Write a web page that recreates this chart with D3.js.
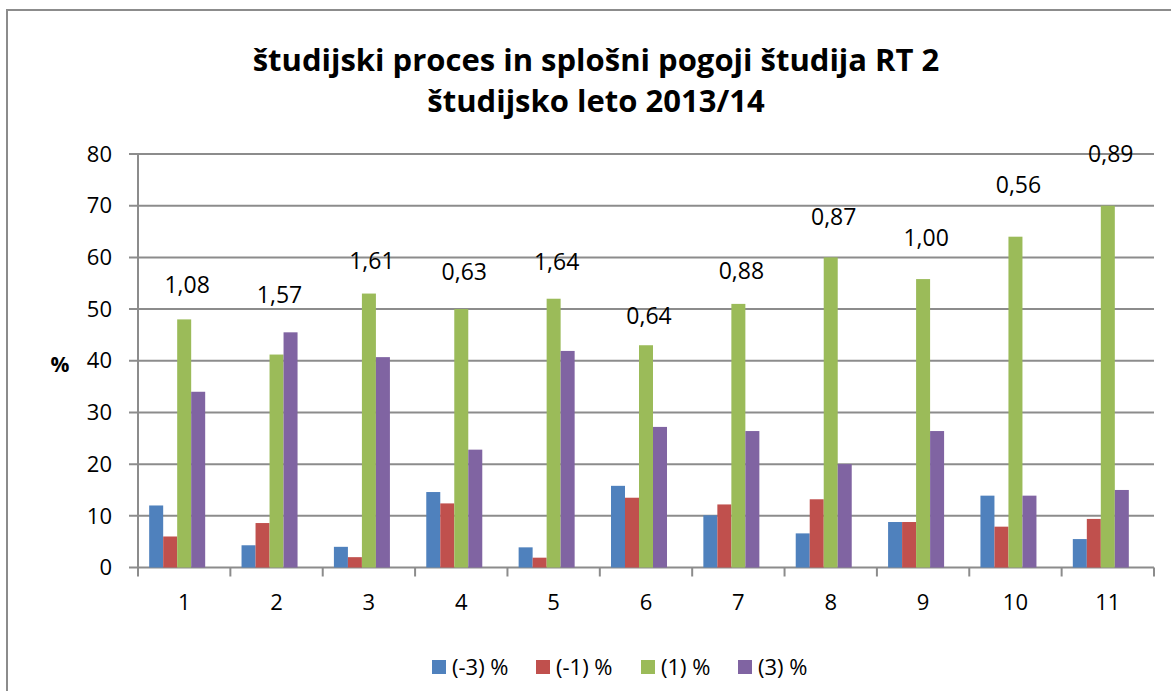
<!DOCTYPE html>
<html>
<head>
<meta charset="utf-8">
<script src="https://cdn.jsdelivr.net/npm/d3@7"></script>
<style>
  body { margin: 0; background: #fff; }
  text { font-family: "Open Sans", "DejaVu Sans", sans-serif; }
</style>
</head>
<body>
<div id="chart"></div>
<script>
// Categories and series
const categories = ['1', '2', '3', '4', '5', '6', '7', '8', '9', '10', '11'];
const seriesNames = ['(-3) %', '(-1) %', '(1) %', '(3) %'];
const seriesColors = ['#4F81BD', '#C0504D', '#9BBB59', '#8064A2'];

const minus3 = [12, 4.3, 4.0, 14.6, 3.9, 15.8, 10.1, 6.6, 8.8, 13.9, 5.5];
const minus1 = [6, 8.6, 2.0, 12.4, 1.9, 13.5, 12.2, 13.2, 8.8, 7.9, 9.4];
const plus1 = [48, 41.2, 53, 50, 52, 43, 51, 60, 55.8, 64, 70];
const plus3 = [34, 45.5, 40.7, 22.8, 41.9, 27.2, 26.4, 20, 26.4, 13.9, 15];

// extra labels shown above each group (and the height they sit at, in %)
const groupLabels = ['1,08', '1,57', '1,61', '0,63', '1,64', '0,64', '0,88', '0,87', '1,00', '0,56', '0,89'];
const groupLabelLevel = [54.7, 52.7, 59.4, 57.2, 59.2, 48.7, 57.4, 67.9, 63.8, 74.0, 80.1];

const yTicks = [0, 10, 20, 30, 40, 50, 60, 70, 80];

const allSeries = [minus3, minus1, plus1, plus3];

const width = 1171, height = 691;
const margin = {left: 138, right: 17, top: 154, bottom: 123.5};

const svg = d3.select('#chart').append('svg')
    .attr('width', width)
    .attr('height', height);

// outer frame
svg.append('rect')
    .attr('x', 7).attr('y', 10)
    .attr('width', 1170).attr('height', 700)
    .attr('fill', 'none')
    .attr('stroke', '#8c8c8c')
    .attr('stroke-width', 2);

const x0 = d3.scaleBand()
    .domain(categories)
    .range([margin.left, width - margin.right])
    .paddingInner(0).paddingOuter(0);

const bw = x0.bandwidth();
const gap = bw * 0.121;
// 5 slots per group, the last slot is left empty
const x1 = d3.scaleBand()
    .domain(d3.range(5))
    .range([gap, bw - gap]);

const y = d3.scaleLinear()
    .domain([0, 80])
    .range([height - margin.bottom, margin.top]);

// gridlines
svg.append('g')
    .selectAll('line')
    .data(yTicks)
    .enter().append('line')
    .attr('x1', margin.left - 9)
    .attr('x2', width - margin.right)
    .attr('y1', d => y(d))
    .attr('y2', d => y(d))
    .attr('stroke', '#8c8c8c')
    .attr('stroke-width', 2);

// y axis line
svg.append('line')
    .attr('x1', margin.left).attr('x2', margin.left)
    .attr('y1', y(80)).attr('y2', y(0) + 8)
    .attr('stroke', '#8c8c8c')
    .attr('stroke-width', 2);

// x axis ticks at category boundaries
const boundaries = categories.map(c => x0(c)).concat([width - margin.right]);
svg.append('g')
    .selectAll('line')
    .data(boundaries)
    .enter().append('line')
    .attr('x1', d => d).attr('x2', d => d)
    .attr('y1', y(0)).attr('y2', y(0) + 9)
    .attr('stroke', '#8c8c8c')
    .attr('stroke-width', 2);

// y tick labels
svg.append('g')
    .selectAll('text')
    .data(yTicks)
    .enter().append('text')
    .attr('x', margin.left - 26)
    .attr('y', d => y(d))
    .attr('dy', '0.35em')
    .attr('text-anchor', 'end')
    .attr('font-size', 22)
    .attr('fill', '#000')
    .text(d => d);

svg.append('text')
    .attr('x', 60).attr('y', y(39.2))
    .attr('dy', '0.35em')
    .attr('text-anchor', 'middle')
    .attr('font-size', 21)
    .attr('font-weight', 'bold')
    .text('%');

// x tick labels
svg.append('g')
    .selectAll('text')
    .data(categories)
    .enter().append('text')
    .attr('x', d => x0(d) + bw / 2)
    .attr('y', y(0) + 35)
    .attr('dy', '0.35em')
    .attr('text-anchor', 'middle')
    .attr('font-size', 22)
    .text(d => d);

// bars
allSeries.forEach((vals, si) => {
    svg.append('g')
        .selectAll('rect')
        .data(vals)
        .enter().append('rect')
        .attr('x', (d, i) => x0(categories[i]) + x1(si))
        .attr('y', d => y(d))
        .attr('width', x1.bandwidth())
        .attr('height', d => y(0) - y(d))
        .attr('fill', seriesColors[si]);
});

// group labels
svg.append('g')
    .selectAll('text')
    .data(groupLabels)
    .enter().append('text')
    .attr('x', (d, i) => x0(categories[i]) + bw / 2 + 3)
    .attr('y', (d, i) => y(groupLabelLevel[i]))
    .attr('dy', '0.35em')
    .attr('text-anchor', 'middle')
    .attr('font-size', 23)
    .text(d => d);

// title
svg.append('text')
    .attr('x', 596).attr('y', 60)
    .attr('dy', '0.35em')
    .attr('text-anchor', 'middle')
    .attr('font-size', 31)
    .attr('font-weight', 'bold')
    .text('študijski proces in splošni pogoji študija RT 2');
svg.append('text')
    .attr('x', 596).attr('y', 101)
    .attr('dy', '0.35em')
    .attr('text-anchor', 'middle')
    .attr('font-size', 31)
    .attr('font-weight', 'bold')
    .text('študijsko leto 2013/14');

// legend
const legendX = [432, 536, 641, 738];
const legend = svg.append('g')
    .selectAll('g')
    .data(seriesNames)
    .enter().append('g')
    .attr('transform', (d, i) => `translate(${legendX[i]},667)`);
legend.append('rect')
    .attr('x', 0).attr('y', -7)
    .attr('width', 14).attr('height', 14)
    .attr('fill', (d, i) => seriesColors[i]);
legend.append('text')
    .attr('x', 20).attr('y', 0)
    .attr('dy', '0.35em')
    .attr('font-size', 22)
    .text(d => d);
</script>
</body>
</html>
